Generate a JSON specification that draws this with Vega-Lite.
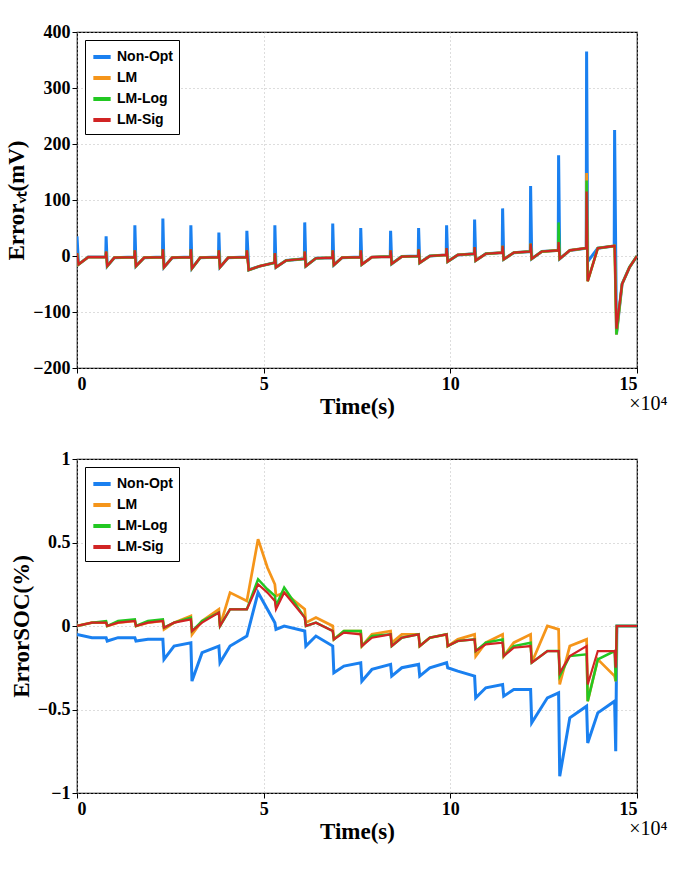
{
  "$schema": "https://vega.github.io/schema/vega-lite/v6.json",
  "background": "white",
  "padding": {"left": 5, "top": 22, "right": 22, "bottom": 5},
  "spacing": 30,
  "config": {
    "view": {"stroke": "black", "strokeWidth": 1.2},
    "font": "Liberation Serif",
    "axis": {
      "labelFont": "Liberation Serif", "labelFontWeight": "bold", "labelFontSize": 18, "labelColor": "black",
      "titleFont": "Liberation Serif", "titleFontWeight": "bold", "titleFontSize": 23, "titleColor": "black",
      "grid": true, "gridDash": [1, 3], "gridColor": "#bbbbbb", "domain": false,
      "tickColor": "black", "tickSize": 5
    },
    "legend": {
      "orient": "top-left", "offset": 8, "title": null, "strokeColor": "black", "fillColor": "white",
      "padding": 6, "labelFont": "Liberation Sans", "labelFontWeight": "bold", "labelFontSize": 14,
      "symbolType": "stroke", "symbolSize": 300, "symbolStrokeWidth": 4, "rowPadding": 2
    },
    "title": {"font": "Liberation Serif", "fontWeight": "normal", "fontSize": 20, "color": "black"}
  },
  "datasets": {
    "top": [
      {"t": 0, "Non-Opt": 35, "LM": 5, "LM-Log": 5, "LM-Sig": 5},
      {"t": 0.04, "Non-Opt": -15, "LM": -15, "LM-Log": -15, "LM-Sig": -15},
      {"t": 0.3, "Non-Opt": -2, "LM": -2, "LM-Log": -2, "LM-Sig": -2},
      {"t": 0.77, "Non-Opt": -2, "LM": -2, "LM-Log": -2, "LM-Sig": -2},
      {"t": 0.78, "Non-Opt": 35, "LM": 8, "LM-Log": 8, "LM-Sig": 8},
      {"t": 0.81, "Non-Opt": -18, "LM": -18, "LM-Log": -18, "LM-Sig": -18},
      {"t": 1.0, "Non-Opt": -3, "LM": -3, "LM-Log": -3, "LM-Sig": -3},
      {"t": 1.54, "Non-Opt": -2, "LM": -2, "LM-Log": -2, "LM-Sig": -2},
      {"t": 1.55, "Non-Opt": 55, "LM": 10, "LM-Log": 10, "LM-Sig": 10},
      {"t": 1.58, "Non-Opt": -18, "LM": -18, "LM-Log": -18, "LM-Sig": -18},
      {"t": 1.8, "Non-Opt": -3, "LM": -3, "LM-Log": -3, "LM-Sig": -3},
      {"t": 2.29, "Non-Opt": -2, "LM": -2, "LM-Log": -2, "LM-Sig": -2},
      {"t": 2.3, "Non-Opt": 67, "LM": 12, "LM-Log": 12, "LM-Sig": 12},
      {"t": 2.33, "Non-Opt": -20, "LM": -20, "LM-Log": -20, "LM-Sig": -20},
      {"t": 2.55, "Non-Opt": -3, "LM": -3, "LM-Log": -3, "LM-Sig": -3},
      {"t": 3.04, "Non-Opt": -2, "LM": -2, "LM-Log": -2, "LM-Sig": -2},
      {"t": 3.05, "Non-Opt": 55, "LM": 12, "LM-Log": 12, "LM-Sig": 12},
      {"t": 3.08, "Non-Opt": -22, "LM": -22, "LM-Log": -22, "LM-Sig": -22},
      {"t": 3.3, "Non-Opt": -3, "LM": -3, "LM-Log": -3, "LM-Sig": -3},
      {"t": 3.79, "Non-Opt": -2, "LM": -2, "LM-Log": -2, "LM-Sig": -2},
      {"t": 3.8, "Non-Opt": 42, "LM": 10, "LM-Log": 10, "LM-Sig": 10},
      {"t": 3.83, "Non-Opt": -20, "LM": -20, "LM-Log": -20, "LM-Sig": -20},
      {"t": 4.05, "Non-Opt": -3, "LM": -3, "LM-Log": -3, "LM-Sig": -3},
      {"t": 4.54, "Non-Opt": -2, "LM": -2, "LM-Log": -2, "LM-Sig": -2},
      {"t": 4.55, "Non-Opt": 45, "LM": 10, "LM-Log": 10, "LM-Sig": 10},
      {"t": 4.6, "Non-Opt": -25, "LM": -25, "LM-Log": -25, "LM-Sig": -25},
      {"t": 4.9, "Non-Opt": -18, "LM": -18, "LM-Log": -18, "LM-Sig": -18},
      {"t": 5.29, "Non-Opt": -12, "LM": -12, "LM-Log": -12, "LM-Sig": -12},
      {"t": 5.3, "Non-Opt": 55, "LM": 5, "LM-Log": 5, "LM-Sig": 5},
      {"t": 5.33, "Non-Opt": -20, "LM": -20, "LM-Log": -20, "LM-Sig": -20},
      {"t": 5.6, "Non-Opt": -8, "LM": -8, "LM-Log": -8, "LM-Sig": -8},
      {"t": 6.09, "Non-Opt": -5, "LM": -5, "LM-Log": -5, "LM-Sig": -5},
      {"t": 6.1, "Non-Opt": 60, "LM": 8, "LM-Log": 8, "LM-Sig": 8},
      {"t": 6.13, "Non-Opt": -18, "LM": -18, "LM-Log": -18, "LM-Sig": -18},
      {"t": 6.4, "Non-Opt": -4, "LM": -4, "LM-Log": -4, "LM-Sig": -4},
      {"t": 6.84, "Non-Opt": -3, "LM": -3, "LM-Log": -3, "LM-Sig": -3},
      {"t": 6.85, "Non-Opt": 58, "LM": 10, "LM-Log": 10, "LM-Sig": 10},
      {"t": 6.88, "Non-Opt": -16, "LM": -16, "LM-Log": -16, "LM-Sig": -16},
      {"t": 7.1, "Non-Opt": -3, "LM": -3, "LM-Log": -3, "LM-Sig": -3},
      {"t": 7.59, "Non-Opt": -2, "LM": -2, "LM-Log": -2, "LM-Sig": -2},
      {"t": 7.6, "Non-Opt": 50, "LM": 10, "LM-Log": 10, "LM-Sig": 10},
      {"t": 7.63, "Non-Opt": -15, "LM": -15, "LM-Log": -15, "LM-Sig": -15},
      {"t": 7.9, "Non-Opt": -2, "LM": -2, "LM-Log": -2, "LM-Sig": -2},
      {"t": 8.39, "Non-Opt": -1, "LM": -1, "LM-Log": -1, "LM-Sig": -1},
      {"t": 8.4, "Non-Opt": 45, "LM": 10, "LM-Log": 10, "LM-Sig": 10},
      {"t": 8.43, "Non-Opt": -14, "LM": -14, "LM-Log": -14, "LM-Sig": -14},
      {"t": 8.7, "Non-Opt": -1, "LM": -1, "LM-Log": -1, "LM-Sig": -1},
      {"t": 9.14, "Non-Opt": 0, "LM": 0, "LM-Log": 0, "LM-Sig": 0},
      {"t": 9.15, "Non-Opt": 50, "LM": 12, "LM-Log": 12, "LM-Sig": 12},
      {"t": 9.18, "Non-Opt": -12, "LM": -12, "LM-Log": -12, "LM-Sig": -12},
      {"t": 9.45, "Non-Opt": 0, "LM": 0, "LM-Log": 0, "LM-Sig": 0},
      {"t": 9.89, "Non-Opt": 2, "LM": 2, "LM-Log": 2, "LM-Sig": 2},
      {"t": 9.9, "Non-Opt": 55, "LM": 14, "LM-Log": 14, "LM-Sig": 14},
      {"t": 9.93, "Non-Opt": -10, "LM": -10, "LM-Log": -10, "LM-Sig": -10},
      {"t": 10.2, "Non-Opt": 2, "LM": 2, "LM-Log": 2, "LM-Sig": 2},
      {"t": 10.64, "Non-Opt": 4, "LM": 4, "LM-Log": 4, "LM-Sig": 4},
      {"t": 10.65, "Non-Opt": 65, "LM": 16, "LM-Log": 16, "LM-Sig": 16},
      {"t": 10.68, "Non-Opt": -8, "LM": -8, "LM-Log": -8, "LM-Sig": -8},
      {"t": 10.95, "Non-Opt": 4, "LM": 4, "LM-Log": 4, "LM-Sig": 4},
      {"t": 11.39, "Non-Opt": 6, "LM": 6, "LM-Log": 6, "LM-Sig": 6},
      {"t": 11.4, "Non-Opt": 85, "LM": 18, "LM-Log": 18, "LM-Sig": 18},
      {"t": 11.43, "Non-Opt": -6, "LM": -6, "LM-Log": -6, "LM-Sig": -6},
      {"t": 11.7, "Non-Opt": 6, "LM": 6, "LM-Log": 6, "LM-Sig": 6},
      {"t": 12.14, "Non-Opt": 8, "LM": 8, "LM-Log": 8, "LM-Sig": 8},
      {"t": 12.15, "Non-Opt": 125, "LM": 22, "LM-Log": 22, "LM-Sig": 22},
      {"t": 12.18, "Non-Opt": -5, "LM": -5, "LM-Log": -5, "LM-Sig": -5},
      {"t": 12.45, "Non-Opt": 8, "LM": 8, "LM-Log": 8, "LM-Sig": 8},
      {"t": 12.89, "Non-Opt": 10, "LM": 10, "LM-Log": 10, "LM-Sig": 10},
      {"t": 12.9, "Non-Opt": 180, "LM": 25, "LM-Log": 60, "LM-Sig": 25},
      {"t": 12.93, "Non-Opt": -5, "LM": -5, "LM-Log": -5, "LM-Sig": -5},
      {"t": 13.2, "Non-Opt": 10, "LM": 10, "LM-Log": 10, "LM-Sig": 10},
      {"t": 13.64, "Non-Opt": 14, "LM": 14, "LM-Log": 14, "LM-Sig": 14},
      {"t": 13.65, "Non-Opt": 365, "LM": 148, "LM-Log": 135, "LM-Sig": 115},
      {"t": 13.68, "Non-Opt": -10, "LM": -45, "LM-Log": -45, "LM-Sig": -45},
      {"t": 13.95, "Non-Opt": 14, "LM": 14, "LM-Log": 14, "LM-Sig": 14},
      {"t": 14.39, "Non-Opt": 18, "LM": 18, "LM-Log": 18, "LM-Sig": 18},
      {"t": 14.4, "Non-Opt": 225, "LM": 20, "LM-Log": 20, "LM-Sig": 20},
      {"t": 14.45, "Non-Opt": -140, "LM": -140, "LM-Log": -140, "LM-Sig": -130},
      {"t": 14.6, "Non-Opt": -50, "LM": -50, "LM-Log": -50, "LM-Sig": -50},
      {"t": 14.8, "Non-Opt": -20, "LM": -20, "LM-Log": -20, "LM-Sig": -20},
      {"t": 15, "Non-Opt": 0, "LM": 0, "LM-Log": 0, "LM-Sig": 0}
    ],
    "bot": [
      {"t": 0, "Non-Opt": -0.05, "LM": 0, "LM-Log": 0, "LM-Sig": 0},
      {"t": 0.4, "Non-Opt": -0.07, "LM": 0.02, "LM-Log": 0.02, "LM-Sig": 0.02},
      {"t": 0.78, "Non-Opt": -0.07, "LM": 0.02, "LM-Log": 0.03, "LM-Sig": 0.02},
      {"t": 0.81, "Non-Opt": -0.09, "LM": 0, "LM-Log": 0, "LM-Sig": 0},
      {"t": 1.1, "Non-Opt": -0.07, "LM": 0.02, "LM-Log": 0.03, "LM-Sig": 0.02},
      {"t": 1.55, "Non-Opt": -0.07, "LM": 0.03, "LM-Log": 0.04, "LM-Sig": 0.03},
      {"t": 1.58, "Non-Opt": -0.09, "LM": 0, "LM-Log": 0, "LM-Sig": 0},
      {"t": 1.9, "Non-Opt": -0.08, "LM": 0.02, "LM-Log": 0.03, "LM-Sig": 0.02},
      {"t": 2.3, "Non-Opt": -0.08, "LM": 0.03, "LM-Log": 0.04, "LM-Sig": 0.03},
      {"t": 2.33, "Non-Opt": -0.2, "LM": -0.02, "LM-Log": -0.01, "LM-Sig": -0.01},
      {"t": 2.6, "Non-Opt": -0.12, "LM": 0.02, "LM-Log": 0.02, "LM-Sig": 0.02},
      {"t": 3.05, "Non-Opt": -0.1, "LM": 0.06, "LM-Log": 0.05, "LM-Sig": 0.04},
      {"t": 3.08, "Non-Opt": -0.33, "LM": -0.05, "LM-Log": -0.03, "LM-Sig": -0.03},
      {"t": 3.35, "Non-Opt": -0.16, "LM": 0.03, "LM-Log": 0.03, "LM-Sig": 0.02},
      {"t": 3.8, "Non-Opt": -0.12, "LM": 0.1, "LM-Log": 0.08, "LM-Sig": 0.08},
      {"t": 3.83, "Non-Opt": -0.22, "LM": 0, "LM-Log": 0, "LM-Sig": 0},
      {"t": 4.1, "Non-Opt": -0.12, "LM": 0.2, "LM-Log": 0.1, "LM-Sig": 0.1},
      {"t": 4.55, "Non-Opt": -0.06, "LM": 0.15, "LM-Log": 0.1, "LM-Sig": 0.1},
      {"t": 4.85, "Non-Opt": 0.2, "LM": 0.52, "LM-Log": 0.28, "LM-Sig": 0.25},
      {"t": 5.1, "Non-Opt": 0.1, "LM": 0.35, "LM-Log": 0.22, "LM-Sig": 0.2},
      {"t": 5.3, "Non-Opt": 0.02, "LM": 0.25, "LM-Log": 0.18, "LM-Sig": 0.15},
      {"t": 5.33, "Non-Opt": -0.02, "LM": 0.18, "LM-Log": 0.12, "LM-Sig": 0.1},
      {"t": 5.55, "Non-Opt": 0, "LM": 0.2, "LM-Log": 0.23, "LM-Sig": 0.2},
      {"t": 6.1, "Non-Opt": -0.03, "LM": 0.1, "LM-Log": 0.05, "LM-Sig": 0.05},
      {"t": 6.13, "Non-Opt": -0.12, "LM": 0.02, "LM-Log": 0, "LM-Sig": 0},
      {"t": 6.4, "Non-Opt": -0.06, "LM": 0.05, "LM-Log": 0.02, "LM-Sig": 0.02},
      {"t": 6.85, "Non-Opt": -0.12, "LM": 0, "LM-Log": -0.03, "LM-Sig": -0.03},
      {"t": 6.88, "Non-Opt": -0.28, "LM": -0.08, "LM-Log": -0.08, "LM-Sig": -0.08},
      {"t": 7.15, "Non-Opt": -0.24, "LM": -0.03, "LM-Log": -0.03, "LM-Sig": -0.04},
      {"t": 7.6, "Non-Opt": -0.22, "LM": -0.03, "LM-Log": -0.03, "LM-Sig": -0.05},
      {"t": 7.63, "Non-Opt": -0.33, "LM": -0.12, "LM-Log": -0.12, "LM-Sig": -0.12},
      {"t": 7.9, "Non-Opt": -0.26, "LM": -0.05, "LM-Log": -0.06, "LM-Sig": -0.07},
      {"t": 8.4, "Non-Opt": -0.23, "LM": -0.03, "LM-Log": -0.05, "LM-Sig": -0.05},
      {"t": 8.43, "Non-Opt": -0.3, "LM": -0.1, "LM-Log": -0.12, "LM-Sig": -0.12},
      {"t": 8.7, "Non-Opt": -0.25, "LM": -0.05, "LM-Log": -0.07, "LM-Sig": -0.07},
      {"t": 9.15, "Non-Opt": -0.23, "LM": -0.05, "LM-Log": -0.05, "LM-Sig": -0.05},
      {"t": 9.18, "Non-Opt": -0.3, "LM": -0.12, "LM-Log": -0.12, "LM-Sig": -0.12},
      {"t": 9.45, "Non-Opt": -0.25, "LM": -0.07, "LM-Log": -0.07, "LM-Sig": -0.07},
      {"t": 9.9, "Non-Opt": -0.22, "LM": -0.05, "LM-Log": -0.05, "LM-Sig": -0.05},
      {"t": 9.93, "Non-Opt": -0.25, "LM": -0.12, "LM-Log": -0.12, "LM-Sig": -0.12},
      {"t": 10.2, "Non-Opt": -0.27, "LM": -0.08, "LM-Log": -0.09, "LM-Sig": -0.09},
      {"t": 10.65, "Non-Opt": -0.3, "LM": -0.05, "LM-Log": -0.08, "LM-Sig": -0.08},
      {"t": 10.68, "Non-Opt": -0.43, "LM": -0.18, "LM-Log": -0.15, "LM-Sig": -0.15},
      {"t": 10.95, "Non-Opt": -0.37, "LM": -0.1, "LM-Log": -0.1, "LM-Sig": -0.11},
      {"t": 11.4, "Non-Opt": -0.35, "LM": -0.05, "LM-Log": -0.08, "LM-Sig": -0.1},
      {"t": 11.43, "Non-Opt": -0.42, "LM": -0.18, "LM-Log": -0.18, "LM-Sig": -0.18},
      {"t": 11.7, "Non-Opt": -0.38, "LM": -0.1, "LM-Log": -0.12, "LM-Sig": -0.13},
      {"t": 12.15, "Non-Opt": -0.38, "LM": -0.05, "LM-Log": -0.1, "LM-Sig": -0.12},
      {"t": 12.18, "Non-Opt": -0.58, "LM": -0.22, "LM-Log": -0.22, "LM-Sig": -0.22},
      {"t": 12.6, "Non-Opt": -0.43, "LM": 0, "LM-Log": -0.15, "LM-Sig": -0.15},
      {"t": 12.9, "Non-Opt": -0.4, "LM": -0.02, "LM-Log": -0.15, "LM-Sig": -0.15},
      {"t": 12.93, "Non-Opt": -0.9, "LM": -0.35, "LM-Log": -0.3, "LM-Sig": -0.28},
      {"t": 13.2, "Non-Opt": -0.55, "LM": -0.12, "LM-Log": -0.18, "LM-Sig": -0.18},
      {"t": 13.65, "Non-Opt": -0.48, "LM": -0.08, "LM-Log": -0.17, "LM-Sig": -0.12},
      {"t": 13.68, "Non-Opt": -0.7, "LM": -0.45, "LM-Log": -0.45, "LM-Sig": -0.35},
      {"t": 13.95, "Non-Opt": -0.52, "LM": -0.2, "LM-Log": -0.2, "LM-Sig": -0.15},
      {"t": 14.4, "Non-Opt": -0.45, "LM": -0.3, "LM-Log": -0.15, "LM-Sig": -0.15},
      {"t": 14.43, "Non-Opt": -0.75, "LM": -0.33, "LM-Log": -0.33, "LM-Sig": -0.25},
      {"t": 14.46, "Non-Opt": 0, "LM": 0, "LM-Log": 0, "LM-Sig": 0},
      {"t": 15, "Non-Opt": 0, "LM": 0, "LM-Log": 0, "LM-Sig": 0}
    ]
  },
  "vconcat": [
    {
      "width": 560,
      "height": 336,
      "data": {"name": "top"},
      "title": {"text": "×10⁴", "orient": "bottom", "anchor": "end", "offset": -24, "dx": 30},
      "transform": [{"fold": ["Non-Opt", "LM", "LM-Log", "LM-Sig"], "as": ["series", "value"]}],
      "mark": {"type": "line", "clip": true},
      "encoding": {
        "x": {"field": "t", "type": "quantitative", "scale": {"domain": [0, 15], "nice": false},
          "axis": {"title": "Time(s)", "values": [0, 5, 10, 15], "titlePadding": 2}},
        "y": {"field": "value", "type": "quantitative", "scale": {"domain": [-200, 400], "nice": false},
          "axis": {"title": "Errorᵥₜ(mV)", "values": [-200, -100, 0, 100, 200, 300, 400], "format": "d"}},
        "color": {"field": "series", "type": "nominal",
          "scale": {"domain": ["Non-Opt", "LM", "LM-Log", "LM-Sig"], "range": ["#1a80f0", "#f5951a", "#22c822", "#d12424"]}},
        "strokeWidth": {"field": "series", "type": "nominal", "legend": null,
          "scale": {"domain": ["Non-Opt", "LM", "LM-Log", "LM-Sig"], "range": [3, 2.2, 2.5, 2.8]}},
        "order": {"field": "t", "type": "quantitative"}
      }
    },
    {
      "width": 560,
      "height": 334,
      "data": {"name": "bot"},
      "title": {"text": "×10⁴", "orient": "bottom", "anchor": "end", "offset": -24, "dx": 30},
      "transform": [{"fold": ["Non-Opt", "LM", "LM-Log", "LM-Sig"], "as": ["series", "value"]}],
      "mark": {"type": "line", "clip": true},
      "encoding": {
        "x": {"field": "t", "type": "quantitative", "scale": {"domain": [0, 15], "nice": false},
          "axis": {"title": "Time(s)", "values": [0, 5, 10, 15], "titlePadding": 2}},
        "y": {"field": "value", "type": "quantitative", "scale": {"domain": [-1, 1], "nice": false},
          "axis": {"title": "ErrorSOC(%)", "values": [-1, -0.5, 0, 0.5, 1], "format": "~g"}},
        "color": {"field": "series", "type": "nominal",
          "scale": {"domain": ["Non-Opt", "LM", "LM-Log", "LM-Sig"], "range": ["#1a80f0", "#f5951a", "#22c822", "#d12424"]}},
        "strokeWidth": {"field": "series", "type": "nominal", "legend": null,
          "scale": {"domain": ["Non-Opt", "LM", "LM-Log", "LM-Sig"], "range": [2.5, 2.2, 2.5, 2.5]}},
        "order": {"field": "t", "type": "quantitative"}
      }
    }
  ],
  "resolve": {"scale": {"color": "independent"}}
}
